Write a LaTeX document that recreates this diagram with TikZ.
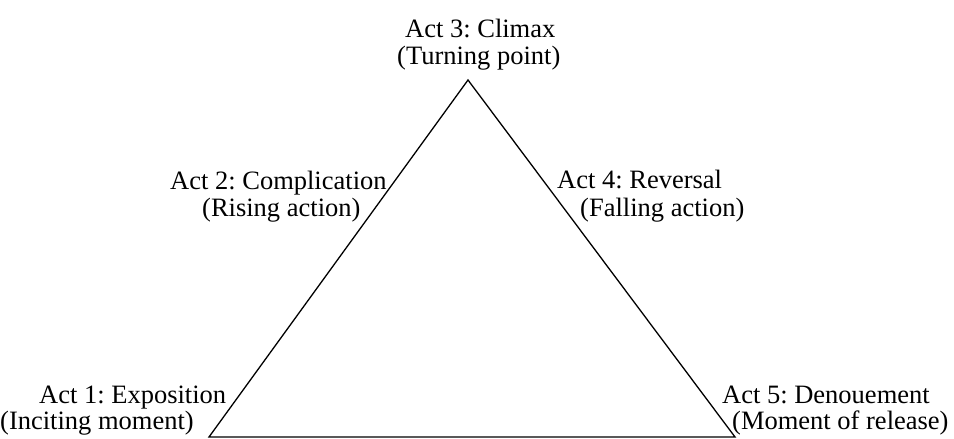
\documentclass[tikz,border=0pt]{standalone}
\usepackage{fontspec}
\setmainfont{Liberation Serif}
\frenchspacing
\begin{document}
\begin{tikzpicture}[x=1pt,y=-1pt,
  lbl/.style={anchor=base west,inner sep=0pt,font=\fontsize{26.5}{30}\selectfont},
  side/.style={line width=1.3pt,line join=miter}]
\useasboundingbox (0,0) rectangle (954,439);
% triangle corners
\coordinate (top) at (468,80);
\coordinate (bl) at (209,437);
\coordinate (br) at (735,437);
\draw[side] (bl) -- (top) -- (br) -- cycle;
% act labels, one node per printed line
\node[lbl] (a3a) at (405,37) {Act 3: Climax};
\node[lbl] (a3b) at (397,64) {(Turning point)};
\node[lbl] (a2a) at (170,189) {Act 2: Complication};
\node[lbl] (a2b) at (202,216) {(Rising action)};
\node[lbl] (a4a) at (557,188) {Act 4: Reversal};
\node[lbl] (a4b) at (580,216) {(Falling action)};
\node[lbl] (a1a) at (39,403) {Act 1: Exposition};
\node[lbl] (a1b) at (0,429) {(Inciting moment)};
\node[lbl] (a5a) at (722,403) {Act 5: Denouement};
\node[lbl] (a5b) at (732,429) {(Moment of release)};
\end{tikzpicture}
\end{document}
